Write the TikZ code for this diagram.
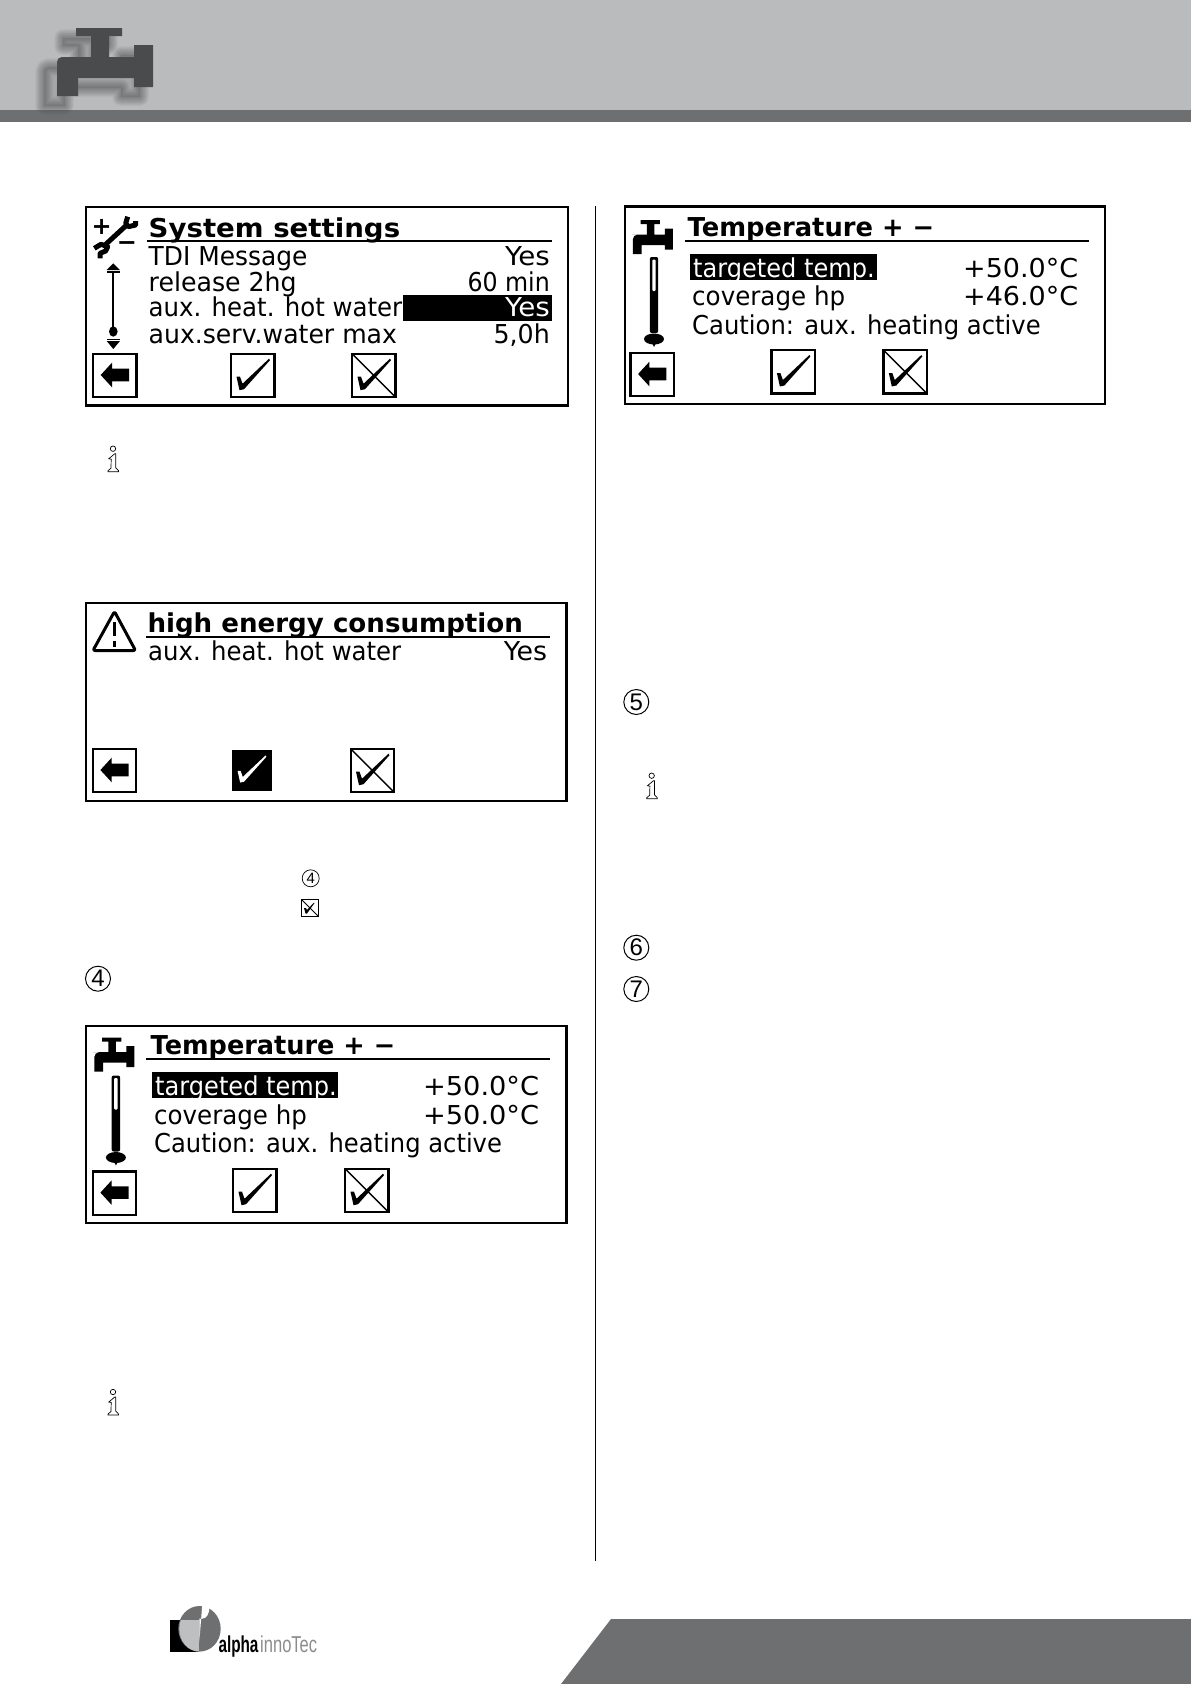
\documentclass[tikz,border=0pt]{standalone}
\usepackage{graphicx}
\usepackage{fontspec}
\setmainfont{Liberation Sans}
\newfontfamily\lcdbase{DejaVu Sans}
\definecolor{headgray}{rgb}{0.725,0.733,0.741}
\definecolor{bandgray}{rgb}{0.431,0.435,0.443}
\definecolor{taptone}{rgb}{0.290,0.294,0.298}
\definecolor{ringlight}{rgb}{0.745,0.749,0.753}
\newcommand{\lcdfit}[2]{\resizebox{#1pt}{\height}{#2}}
\tikzstyle{panel}=[draw=black,line width=2.5pt,fill=white]
\tikzstyle{lcd}=[anchor=base west,inner sep=0pt,font=\lcdbase\fontsize{26}{26}\selectfont]
\tikzstyle{lcdright}=[lcd,anchor=base east]
\tikzstyle{lcdtitle}=[lcd,font=\lcdbase\bfseries\fontsize{26}{26}\selectfont]
\tikzstyle{lcdsign}=[lcd,anchor=center,font=\lcdbase\bfseries\fontsize{24}{24}\selectfont]
\tikzstyle{logotext}=[anchor=base west,inner sep=0pt,font=\fontsize{23}{23}\selectfont]
\tikzstyle{rulebar}=[draw=black,line width=1.8pt]
\tikzstyle{bigmark}=[circle,draw=black,line width=1pt,minimum size=25pt,inner sep=0pt,font=\fontsize{24}{24}\selectfont]
\tikzstyle{smallmark}=[bigmark,minimum size=17pt,line width=0.7pt,font=\fontsize{15}{15}\selectfont]
\tikzset{
	btnframe/.style={draw=black,line width=2.2pt},
	backbtn/.pic={
		\draw[btnframe] (1.1,1.1) rectangle (44.5,44.5);
		\fill (8.7,22.3) -- (20,10) -- (20,16) -- (37,16) -- (37,28.6) -- (20,28.6) -- (20,34.6) -- cycle;
	},
	tick/.pic={
		\fill[pic actions] (6.5,24) -- (10,24) -- (12.5,31) -- (39,6) -- (40,7.5) -- (14,36.5) -- (9.5,37.5) -- cycle;
	},
	okbtn/.pic={
		\draw[btnframe] (1.1,1.1) rectangle (44.5,44.5);
		\pic[black] {tick};
	},
	nobtn/.pic={
		\draw[btnframe] (1.1,1.1) rectangle (44.5,44.5);
		\draw[line width=1.4pt] (2,2) -- (44,44);
		\pic[black] {tick};
	},
	tap/.pic={
		\path[pic actions,rounded corners=5pt] (0,68) -- (0,29) -- (10,29) [sharp corners] -- (34,29) -- (34,8) -- (19,8) -- (19,0) -- (65,0) -- (65,8) -- (52,8) -- (52,29) -- (77,29) -- (77,17) -- (96,17) -- (96,59) -- (77,59) -- (77,50) -- (21,50) -- (21,68) -- cycle;
	},
	thermo/.pic={
		\fill[rounded corners=2pt] (-4.2,0) rectangle (4.2,76);
		\fill[white,rounded corners=1pt] (-1.7,2.5) rectangle (1.7,34);
		\fill (0,82) ellipse (10 and 5.5);
		\fill (-3,84) -- (3,84) -- (0,90) -- cycle;
	},
	infomark/.pic={
		\draw[line width=0.7pt,fill=white] (5,3) circle (2.7);
		\draw[line width=0.7pt,fill=white] (0.8,13) -- (6.8,8) -- (7.7,8) -- (7.7,22) -- (10.5,25) -- (10.5,26) -- (0,26) -- (0,25) -- (3,22.5) -- (3.2,13.5) -- cycle;
	}
}
\begin{document}
\begin{tikzpicture}[x=1pt,y=-1pt]
	\useasboundingbox (0,0) rectangle (1191,1684);
	% header and footer
	\fill[headgray] (0,0) rectangle (1191,110);
	\fill[bandgray] (0,110) rectangle (1191,122);
	\begin{scope}
		\clip (0,0) rectangle (1191,122);
		\pic[fill=taptone,fill opacity=0.18] at (44,38) {tap};
		\foreach \w in {1,2.5,4,5.5,7,8.5,10,11.5,13,14.5,16,18}
			\pic[draw=taptone,draw opacity=0.05,line width=\w pt,line join=round] at (44,38) {tap};
	\end{scope}
	\pic[fill=taptone] at (57,28) {tap};
	\fill[bandgray] (611,1619) -- (1191,1619) -- (1191,1684) -- (561,1684) -- cycle;
	\draw[black,line width=0.7pt] (595,206) -- (595,1561);

	% logo
	\fill[black] (170,1619.5) rectangle (199.3,1652);
	\fill[bandgray] (199.5,1628.8) ellipse (21.2 and 22.8);
	\begin{scope}
		\clip (199.5,1628.8) ellipse (20.2 and 22.8);
		\fill[ringlight] (175,1619.5) rectangle (199.3,1652);
	\end{scope}
	\fill[white] (199.3,1618.5) -- (203,1618.5) arc (90:-90:6.5 and 11.7) -- (199.3,1641.9) -- cycle;
	\node [style=logotext,font=\bfseries\fontsize{23}{23}\selectfont] (logoa) at (218.3, 1652) {\lcdfit{40}{alpha}};
	\node [style=logotext,text=black!45] (logob) at (260, 1652) {\lcdfit{57}{innoTec}};

	% system settings
	\draw[panel] (86,207) rectangle (568,405.5);
	\node [style=lcdtitle] (sys) at (148.5, 237) {\lcdfit{251.5}{System settings}};
	\draw[rulebar] (147,240.7) -- (552,240.7);
	\node [style=lcd] (tdi) at (148.5, 265.7) {\lcdfit{158.8}{TDI Message}};
	\node [style=lcd] (rel) at (148.5, 291.7) {\lcdfit{148}{release 2hg}};
	\node [style=lcd] (aux) at (148.5, 316.7) {\lcdfit{253.5}{aux. heat. hot water}};
	\node [style=lcd] (srv) at (148.5, 343) {\lcdfit{248.3}{aux.serv.water max}};
	\node [style=lcdright] (tdiv) at (550, 265.7) {\lcdfit{44.8}{Yes}};
	\node [style=lcdright] (relv) at (550, 291.7) {\lcdfit{82.3}{60 min}};
	\fill[black] (402.6,295) rectangle (552,320.7);
	\node [style=lcdright,text=white] (auxv) at (550, 316.7) {\lcdfit{44.8}{Yes}};
	\node [style=lcdright] (srvv) at (550, 343) {\lcdfit{56.3}{5,0h}};
	% wrench and scroll bar
	\node [style=lcdsign] (plus) at (101.7, 227.2) {+};
	\node [style=lcdsign] (minus) at (127, 246.2) {−};
	\draw[line width=5pt] (105,245) -- (126.7,225);
	\draw[line width=5pt,line join=round] (127.7,216.7) -- (125.7,223.3) -- (128.3,226.7) -- (135.7,225) -- (135.7,221);
	\draw[line width=5pt,line join=round] (94.3,248.3) -- (101,244.3) -- (107.7,246.7) -- (105.7,251) -- (100,253.3) -- (100,258.3);
	\fill (106.7,270) -- (113.3,263.3) -- (120,270) -- cycle;
	\fill (106.7,271) rectangle (120,272.5);
	\draw[line width=1.8pt] (113.3,272) -- (113.3,327);
	\fill (113.3,331.5) ellipse (4.3 and 5.2);
	\fill (106.7,338.5) rectangle (120,340);
	\fill (106.7,341) -- (120,341) -- (113.3,349) -- cycle;
	\pic at (92,352.7) {backbtn};
	\pic at (230,352.7) {okbtn};
	\pic at (351,352.7) {nobtn};
	\pic at (108,445.7) {infomark};

	% high energy consumption
	\draw[panel] (86,603) rectangle (566.5,801);
	\draw[line width=3pt,line join=round,rounded corners=2pt] (114.5,611.5) -- (135.5,650.5) -- (93,650.5) -- cycle;
	\draw[line width=3.6pt] (114.5,622) -- (114.5,636);
	\fill (112.7,641) rectangle (116.3,646.5);
	\node [style=lcdtitle] (warn) at (147.3, 632.7) {\lcdfit{375.4}{high energy consumption}};
	\draw[rulebar] (146,637.3) -- (550,637.3);
	\node [style=lcd] (aux2) at (148, 660.7) {\lcdfit{253}{aux. heat. hot water}};
	\node [style=lcdright] (aux2v) at (547.3, 660.7) {\lcdfit{43.3}{Yes}};
	\pic at (91.7,747.7) {backbtn};
	\fill[black] (232,750.3) rectangle (272,790.7);
	\pic[white,xscale=0.86,yscale=0.86] at (232,750.3) {tick};
	\pic at (349.5,747.7) {nobtn};
	\node [style=smallmark] (mk4a) at (310.7, 878.3) {4};
	\draw[line width=0.7pt] (301.7,899.7) rectangle (318.3,916.3);
	\draw[line width=0.8pt] (301.7,899.7) -- (318.3,916.3);
	\fill (304,908) -- (306,908) -- (307,910) -- (314,902.5) -- (314.5,903) -- (307,913.5) -- (305.5,913.5) -- cycle;
	\node [style=bigmark] (mk4b) at (98, 978.7) {4};

	% temperature, left column
	\draw[panel] (86,1026) rectangle (566.5,1223);
	\pic[fill=black,xscale=0.417,yscale=0.5] at (94.3,1037.7) {tap};
	\pic at (115.9,1075.5) {thermo};
	\node [style=lcdtitle] (tmpa) at (150.5, 1054.3) {\lcdfit{244.5}{Temperature + −}};
	\draw[rulebar] (146,1059) -- (550,1059);
	\fill[black] (151.7,1072.3) rectangle (338,1098.3);
	\node [style=lcd,text=white] (tgta) at (155, 1095) {\lcdfit{181.7}{targeted temp.}};
	\node [style=lcdright] (tgtav) at (539.3, 1095) {\lcdfit{116}{+50.0°C}};
	\node [style=lcd] (cova) at (154, 1124) {\lcdfit{152.7}{coverage hp}};
	\node [style=lcdright] (covav) at (539.3, 1124) {\lcdfit{116}{+50.0°C}};
	\node [style=lcd] (cauta) at (154, 1152.7) {\lcdfit{347.7}{Caution: aux. heating active}};
	\pic at (91.7,1170.3) {backbtn};
	\pic at (232,1167.7) {okbtn};
	\pic at (344,1167.7) {nobtn};
	\pic at (108,1389) {infomark};

	% temperature, right column
	\draw[panel] (625.2,206.5) rectangle (1105,404);
	\pic[fill=black,xscale=0.417,yscale=0.5] at (632.8,220) {tap};
	\pic at (654,257) {thermo};
	\node [style=lcdtitle] (tmpb) at (687.4, 236) {\lcdfit{246.6}{Temperature + −}};
	\draw[rulebar] (684.5,240.7) -- (1089,240.7);
	\fill[black] (689.6,254.3) rectangle (876.5,280);
	\node [style=lcd,text=white] (tgtb) at (693, 277) {\lcdfit{181.5}{targeted temp.}};
	\node [style=lcdright] (tgtbv) at (1078.4, 277) {\lcdfit{115}{+50.0°C}};
	\node [style=lcd] (covb) at (692, 305) {\lcdfit{153}{coverage hp}};
	\node [style=lcdright] (covbv) at (1078.4, 305) {\lcdfit{115}{+46.0°C}};
	\node [style=lcd] (cautb) at (692, 334) {\lcdfit{348.5}{Caution: aux. heating active}};
	\pic at (629.4,351.7) {backbtn};
	\pic at (770.4,349) {okbtn};
	\pic at (882.3,349) {nobtn};
	\node [style=bigmark] (mk5) at (636.3, 702) {5};
	\pic at (646.7,772.7) {infomark};
	\node [style=bigmark] (mk6) at (636.3, 947.7) {6};
	\node [style=bigmark] (mk7) at (636.3, 989) {7};
\end{tikzpicture}
\end{document}
